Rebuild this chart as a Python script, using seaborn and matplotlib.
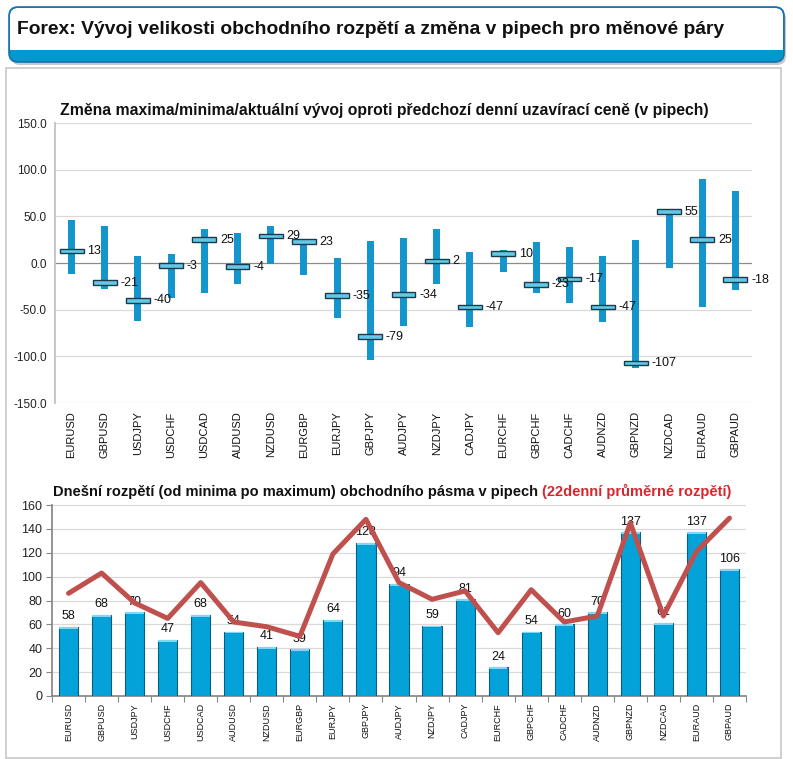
import numpy as np
import pandas as pd
import matplotlib
matplotlib.use("Agg")
import matplotlib.pyplot as plt
import seaborn as sns
from matplotlib.patches import FancyBboxPatch, Rectangle
from matplotlib.transforms import IdentityTransform

pairs = ["EURUSD", "GBPUSD", "USDJPY", "USDCHF", "USDCAD", "AUDUSD", "NZDUSD",
         "EURGBP", "EURJPY", "GBPJPY", "AUDJPY", "NZDJPY", "CADJPY", "EURCHF",
         "GBPCHF", "CADCHF", "AUDNZD", "GBPNZD", "NZDCAD", "EURAUD", "GBPAUD"]
highs = [46, 40, 8, 10, 36, 32, 40, 26, 5, 24, 27, 36, 12, 14, 22, 17, 7, 25, 56, 90, 77]
lows = [-12, -28, -62, -37, -32, -22, -1, -13, -59, -104, -67, -23, -69, -10, -32, -43, -63, -112, -5, -47, -29]
current = [13, -21, -40, -3, 25, -4, 29, 23, -35, -79, -34, 2, -47, 10, -23, -17, -47, -107, 55, 25, -18]
ranges = [58, 68, 70, 47, 68, 54, 41, 39, 64, 128, 94, 59, 81, 24, 54, 60, 70, 137, 61, 137, 106]
avg22 = [86, 103, 78, 65, 95, 62, 58, 50, 119, 148, 95, 81, 88, 53, 89, 62, 67, 145, 67, 121, 149]

sns.set_theme(style="white")
plt.rcParams['font.family'] = ['Liberation Sans', 'DejaVu Sans']

W, H = 793, 759
fig = plt.figure(figsize=(W / 100, H / 100), dpi=100)
fig.patch.set_facecolor("white")

def px(x0, y0, x1, y1):
    return x0, H - y1, x1 - x0, y1 - y0

# ---- header box ----
idt = IdentityTransform()
x0, y0, w, h = px(9, 7, 784, 62)
fig.patches.append(FancyBboxPatch((x0 + 2, y0 - 3), w, h, boxstyle="round,pad=0,rounding_size=9",
                                  transform=idt, facecolor="#C8C8C8", edgecolor="none", zorder=0))
fig.patches.append(FancyBboxPatch((x0, y0), w, h, boxstyle="round,pad=0,rounding_size=9",
                                  transform=idt, facecolor="#0099CE", edgecolor="none", zorder=1))
x0b, y0b, wb, hb = px(10, 8, 783, 56)
fig.patches.append(FancyBboxPatch((x0b, y0b), wb, hb, boxstyle="round,pad=0,rounding_size=8",
                                  transform=idt, facecolor="white", edgecolor="none", zorder=2))
x0c, y0c, wc, hc = px(10, 50, 783, 57)
fig.patches.append(Rectangle((x0c, y0c), wc, hc, transform=idt, facecolor="#0099CE",
                             edgecolor="none", zorder=3))
fig.patches.append(FancyBboxPatch((x0, y0), w, h, boxstyle="round,pad=0,rounding_size=9",
                                  transform=idt, facecolor="none", edgecolor="#1B6FAE", lw=1.2, zorder=4))
fig.text(17 / W, 1 - 30 / H, "Forex: Vývoj velikosti obchodního rozpětí a změna v pipech pro měnové páry",
         fontsize=13.9, fontweight="bold", va="center", ha="left", color="#111111", zorder=5)

# ---- panel border ----
xp, yp, wp, hp = px(6, 68, 781, 758)
fig.patches.append(Rectangle((xp, yp), wp, hp, transform=idt, facecolor="none",
                             edgecolor="#C8C8C8", lw=1.2, zorder=0))

# ---- top chart ----
ax1 = fig.add_axes([55 / W, 1 - 403 / H, (752 - 55) / W, (403 - 123) / H])
df1 = pd.DataFrame({"pair": pairs, "high": highs, "low": lows, "cur": current})
df1["span"] = df1["high"] - df1["low"]
sns.barplot(data=df1, x="pair", y="span", bottom=df1["low"].to_numpy(), color="#1595CD",
            saturation=1, width=0.21, errorbar=None, ax=ax1, zorder=3, linewidth=0)
sns.barplot(data=df1, x="pair", y=np.full(len(pairs), 5.0), bottom=df1["cur"].to_numpy() - 2.5,
            color="#63C9E8", saturation=1, width=0.72, errorbar=None, ax=ax1, zorder=4,
            edgecolor="#1E3A4A", linewidth=1.0)
for i, c in enumerate(current):
    ax1.text(i + 0.47, c, f"{c}", va="center", ha="left", fontsize=9, color="#111111", zorder=5)
ax1.set_ylim(-150, 150)
ax1.set_xlim(-0.5, len(pairs) - 0.5)
yt = np.arange(-150, 151, 50)
ax1.set_yticks(yt)
ax1.set_yticklabels([f"{v:.1f}" for v in yt], fontsize=8.5, color="#222222")
for v in yt:
    ax1.axhline(v, color="#8C8C8C" if v == 0 else "#D9D9D9", lw=0.9, zorder=1)
ax1.set_xticks(range(len(pairs)))
ax1.set_xticklabels(pairs, rotation=90, fontsize=8, color="#111111")
ax1.tick_params(axis="x", length=0, pad=6)
ax1.tick_params(axis="y", length=0, pad=6)
ax1.set_xlabel("")
ax1.set_ylabel("")
for s in ["top", "right", "bottom"]:
    ax1.spines[s].set_visible(False)
ax1.spines["left"].set_color("#BFBFBF")
ax1.set_facecolor("none")
fig.text(60 / W, 1 - 110 / H,
         "Změna maxima/minima/aktuální vývoj oproti předchozí denní uzavírací ceně (v pipech)",
         fontsize=11.3, fontweight="bold", va="center", ha="left", color="#111111")

# ---- bottom chart ----
ax2 = fig.add_axes([52 / W, 1 - 696 / H, (746 - 52) / W, (696 - 505) / H])
df2 = pd.DataFrame({"pair": pairs, "range": ranges, "avg": avg22})
sns.barplot(data=df2, x="pair", y="range", color="#03A3DA", saturation=1, width=0.58,
            errorbar=None, ax=ax2, edgecolor="#0B5E7E", linewidth=0.8, zorder=3)
sns.barplot(data=df2, x="pair", y=np.full(len(pairs), 1.6), bottom=df2["range"].to_numpy() - 1.6,
            color="#7ED8F4", saturation=1, width=0.56, errorbar=None, ax=ax2, linewidth=0, zorder=3.5)
sns.lineplot(data=df2, x="pair", y="avg", color="#C0504D", lw=3.6, sort=False, ax=ax2, zorder=6)
for i, r in enumerate(ranges):
    ax2.text(i, r + 4, f"{r}", ha="center", va="bottom", fontsize=9, color="#111111", zorder=5)
ax2.set_ylim(0, 160)
ax2.set_xlim(-0.5, len(pairs) - 0.5)
ax2.set_yticks(np.arange(0, 161, 20))
ax2.set_yticklabels([str(v) for v in range(0, 161, 20)], fontsize=9, color="#222222")
for v in range(20, 161, 20):
    ax2.axhline(v, color="#D9D9D9", lw=0.9, zorder=1)
ax2.set_xticks(range(len(pairs)))
ax2.set_xticklabels(pairs, rotation=90, fontsize=6.5, color="#111111")
ax2.set_xticks(np.arange(-0.5, len(pairs), 1.0), minor=True)
ax2.tick_params(axis="x", which="major", length=0, pad=5)
ax2.tick_params(axis="x", which="minor", length=4, color="#868686", width=0.8, direction="out", bottom=True)
ax2.tick_params(axis="y", length=4, color="#868686", width=0.8, direction="out", left=True, pad=3)
ax2.set_xlabel("")
ax2.set_ylabel("")
for s in ["top", "right"]:
    ax2.spines[s].set_visible(False)
ax2.spines["left"].set_color("#868686")
ax2.spines["bottom"].set_color("#868686")
ax2.set_facecolor("none")
t1 = fig.text(53 / W, 1 - 492 / H,
              "Dnešní rozpětí (od minima po maximum) obchodního pásma v pipech ",
              fontsize=10.5, fontweight="bold", va="center", ha="left", color="#111111")
ax2.annotate("(22denní průměrné rozpětí)", xy=(1, 0), xycoords=t1, xytext=(0, 0),
             textcoords="offset points", fontsize=10.5, fontweight="bold",
             color="#D8262E", ha="left", va="bottom", annotation_clip=False)

fig.savefig("out.png", dpi=100, facecolor="white")
